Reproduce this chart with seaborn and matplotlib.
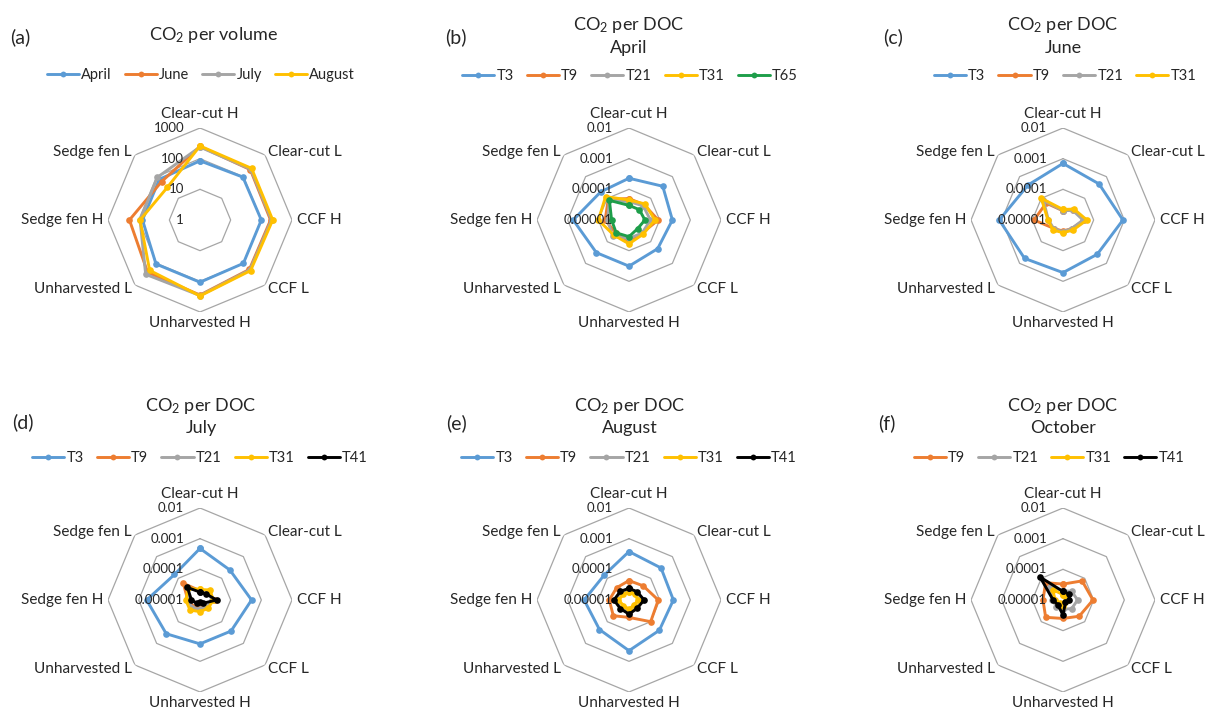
import numpy as np
import pandas as pd
import matplotlib
matplotlib.use("Agg")
import matplotlib.pyplot as plt
from matplotlib.lines import Line2D
import seaborn as sns

# ---------------- data ----------------
categories = ["Clear-cut H", "Clear-cut L", "CCF H", "CCF L",
              "Unharvested H", "Unharvested L", "Sedge fen H", "Sedge fen L"]

# (a) CO2 per volume
a_april = [85, 95, 100, 100, 107, 107, 75, 75]
a_june = [250, 210, 200, 190, 280, 260, 200, 59]
a_july = [240, 220, 215, 200, 290, 320, 90, 93]
a_august = [260, 240, 235, 215, 300, 210, 90, 32]

# (b) CO2 per DOC, April
b_T3 = [2.3e-4, 3.6e-4, 2.6e-4, 2.1e-4, 3.2e-4, 3.2e-4, 6.6e-4, 2.0e-4]
b_T9 = [5e-5, 5e-5, 9e-5, 4e-5, 5e-5, 4e-5, 6e-5, 9e-5]
b_T21 = [4e-5, 4.5e-5, 5e-5, 4e-5, 4e-5, 5.7e-5, 5e-5, 8e-5]
b_T31 = [4.5e-5, 5.5e-5, 7e-5, 4.5e-5, 6e-5, 5e-5, 1e-4, 1.2e-4]
b_T65 = [3e-5, 3e-5, 3.3e-5, 2.5e-5, 3.5e-5, 3.9e-5, 3.7e-5, 8e-5]

# (c) CO2 per DOC, June
c_T3 = [7e-4, 4.6e-4, 9e-4, 3.8e-4, 5.2e-4, 5.9e-4, 1.2e-3, 4.1e-4]
c_T9 = [2e-5, 3e-5, 5e-5, 2.5e-5, 2.3e-5, 2.5e-5, 8.8e-5, 6e-5]
c_T21 = [2e-5, 2.8e-5, 4.5e-5, 2.5e-5, 2.4e-5, 2.6e-5, 3e-5, 8e-5]
c_T31 = [2.2e-5, 3.2e-5, 6e-5, 2.9e-5, 2.6e-5, 2.9e-5, 3.1e-5, 1e-4]

# (d) CO2 per DOC, July
d_T3 = [4.8e-4, 2.4e-4, 4.8e-4, 2.7e-4, 2.7e-4, 3.6e-4, 5.5e-4, 1.5e-4]
d_T9 = [2e-5, 2.2e-5, 3e-5, 2e-5, 1.8e-5, 2e-5, 2.5e-5, 5.9e-5]
d_T21 = [2e-5, 2.5e-5, 2.5e-5, 2e-5, 2e-5, 2.3e-5, 2.5e-5, 3.5e-5]
d_T31 = [2.2e-5, 2.9e-5, 2.7e-5, 2.4e-5, 2.4e-5, 2.9e-5, 2.9e-5, 3.5e-5]
d_T41 = [1.8e-5, 1.9e-5, 3.5e-5, 1.4e-5, 1.2e-5, 1.4e-5, 1.9e-5, 3.8e-5]

# (e) CO2 per DOC, August
e_T3 = [3.8e-4, 3e-4, 2.8e-4, 2.5e-4, 4.5e-4, 2.3e-4, 2.9e-4, 1.4e-4]
e_T9 = [4.3e-5, 4.5e-5, 9e-5, 1e-4, 3.7e-5, 5.3e-5, 4.4e-5, 3.7e-5]
e_T21 = [2.2e-5, 2.2e-5, 2.8e-5, 2.2e-5, 2.6e-5, 2.3e-5, 2.8e-5, 2.3e-5]
e_T31 = [1.8e-5, 1.8e-5, 2e-5, 1.7e-5, 2e-5, 1.8e-5, 2.2e-5, 1.8e-5]
e_T41 = [2.4e-5, 2.4e-5, 3.1e-5, 2.4e-5, 2.9e-5, 2.5e-5, 3.1e-5, 2.5e-5]

# (f) CO2 per DOC, October
f_T9 = [3.3e-5, 7.6e-5, 9.5e-5, 5.6e-5, 4e-5, 6.3e-5, 4.5e-5, 6.3e-5]
f_T21 = [2e-5, 2.5e-5, 3e-5, 2.5e-5, 2e-5, 2e-5, 2.2e-5, 4e-5]
f_T31 = [1.5e-5, 1.4e-5, 1.5e-5, 1.3e-5, 1.6e-5, 1.4e-5, 1.8e-5, 3e-5]
f_T41 = [1.9e-5, 1.9e-5, 1.6e-5, 1.3e-5, 3.1e-5, 1.7e-5, 2.1e-5, 1.15e-4]

vol_ticks = [1, 10, 100, 1000]
vol_tick_labels = ["1", "10", "100", "1000"]
doc_ticks = [1e-5, 1e-4, 1e-3, 1e-2]
doc_tick_labels = ["0.00001", "0.0001", "0.001", "0.01"]

# ---------------- style ----------------
colors = {"April": "#5B9BD5", "June": "#ED7D31", "July": "#A5A5A5", "August": "#FFC000",
          "T3": "#5B9BD5", "T9": "#ED7D31", "T21": "#A5A5A5", "T31": "#FFC000",
          "T41": "#000000", "T65": "#1E9E4A"}

sns.set_theme(style="white")
plt.rcParams["font.family"] = ["Lato", "DejaVu Sans"]
plt.rcParams["mathtext.default"] = "regular"
TXT = "#262626"

W, H = 1209, 718
fig = plt.figure(figsize=(W / 100, H / 100), dpi=100)
PX = 0.72  # points per pixel

panels = [
    dict(letter="(a)", title=["CO$_2$ per volume"], center=(200, 220), title_x=214, title_y=[35],
         letter_xy=(10, 37), leg=(201, 75),
         series={"April": a_april, "June": a_june, "July": a_july, "August": a_august},
         ticks=vol_ticks, tlabels=vol_tick_labels),
    dict(letter="(b)", title=["CO$_2$ per DOC", "April"], center=(629, 220), title_x=629, title_y=[25, 48],
         letter_xy=(445, 37), leg=(630, 76),
         series={"T3": b_T3, "T9": b_T9, "T21": b_T21, "T31": b_T31, "T65": b_T65},
         ticks=doc_ticks, tlabels=doc_tick_labels),
    dict(letter="(c)", title=["CO$_2$ per DOC", "June"], center=(1063, 220), title_x=1063, title_y=[25, 48],
         letter_xy=(883, 37), leg=(1065, 76),
         series={"T3": c_T3, "T9": c_T9, "T21": c_T21, "T31": c_T31},
         ticks=doc_ticks, tlabels=doc_tick_labels),
    dict(letter="(d)", title=["CO$_2$ per DOC", "July"], center=(200, 600), title_x=201, title_y=[406, 428],
         letter_xy=(12, 422), leg=(200, 458),
         series={"T3": d_T3, "T9": d_T9, "T21": d_T21, "T31": d_T31, "T41": d_T41},
         ticks=doc_ticks, tlabels=doc_tick_labels),
    dict(letter="(e)", title=["CO$_2$ per DOC", "August"], center=(629, 600), title_x=630, title_y=[406, 428],
         letter_xy=(446, 423), leg=(629, 458),
         series={"T3": e_T3, "T9": e_T9, "T21": e_T21, "T31": e_T31, "T41": e_T41},
         ticks=doc_ticks, tlabels=doc_tick_labels),
    dict(letter="(f)", title=["CO$_2$ per DOC", "October"], center=(1063, 600), title_x=1063, title_y=[406, 428],
         letter_xy=(878, 423), leg=(1049, 458),
         series={"T9": f_T9, "T21": f_T21, "T31": f_T31, "T41": f_T41},
         ticks=doc_ticks, tlabels=doc_tick_labels),
]

n = len(categories)
angles = np.linspace(0, 2 * np.pi, n, endpoint=False)
angles_closed = np.append(angles, 2 * np.pi)

# label placement (ha, va, dx px, dy px)
lab_pos = [("center", "bottom", 0, 7), ("left", "center", 3, 3), ("left", "center", 5, 0),
           ("left", "center", 3, -4), ("center", "top", 0, -4), ("right", "center", -3, -4),
           ("right", "center", -5, 0), ("right", "center", -3, 3)]

R = 92
for p in panels:
    cx, cy = p["center"]
    ax = fig.add_axes([(cx - R) / W, 1 - (cy + R) / H, 2 * R / W, 2 * R / H], projection="polar")
    ax.set_theta_zero_location("N")
    ax.set_theta_direction(-1)
    ax.set_rscale("log")

    rows = []
    for name, vals in p["series"].items():
        for i, th in enumerate(angles_closed):
            rows.append({"theta": th, "value": vals[i % n], "series": name})
    df = pd.DataFrame(rows)
    names = list(p["series"].keys())

    # octagonal grid
    for lvl in p["ticks"][1:]:
        ax.plot(angles_closed, [lvl] * (n + 1), color="#A6A6A6", lw=0.9, zorder=1)

    sns.lineplot(data=df, x="theta", y="value", hue="series", hue_order=names,
                 palette={k: colors[k] for k in names}, sort=False, estimator=None,
                 marker="o", markersize=4.8, markeredgewidth=0, linewidth=2.1,
                 legend=False, ax=ax, zorder=3)

    ax.set_rlim(p["ticks"][0], p["ticks"][-1])
    ax.set_xticks([])
    ax.set_yticks([])
    ax.yaxis.set_minor_locator(matplotlib.ticker.NullLocator())
    ax.grid(False)
    ax.spines["polar"].set_visible(False)
    ax.set_xlabel("")
    ax.set_ylabel("")
    ax.patch.set_alpha(0)

    for lvl, txt in zip(p["ticks"], p["tlabels"]):
        ax.annotate(txt, xy=(0, lvl), xytext=(-11.5, 0), textcoords="offset points",
                    ha="right", va="center", fontsize=9.5, color=TXT, zorder=6)

    for th, lab, (ha, va, dx, dy) in zip(angles, categories, lab_pos):
        ax.annotate(lab, xy=(th, p["ticks"][-1]), xytext=(dx * PX, dy * PX),
                    textcoords="offset points", ha=ha, va=va, fontsize=11,
                    color=TXT, annotation_clip=False)

    # titles
    for line, ty in zip(p["title"], p["title_y"]):
        fig.text(p["title_x"] / W, 1 - ty / H, line, ha="center", va="center",
                 fontsize=13, color=TXT)
    fig.text(p["letter_xy"][0] / W, 1 - p["letter_xy"][1] / H, p["letter"],
             ha="left", va="center", fontsize=14, color=TXT)

    handles = [Line2D([], [], color=colors[k], lw=2.1, marker="o", ms=4.2, mew=0) for k in names]
    fig.legend(handles, names, loc="center", bbox_to_anchor=(p["leg"][0] / W, 1 - p["leg"][1] / H),
               ncol=len(names), frameon=False, fontsize=10.5, handlelength=2.2,
               handletextpad=0.15, columnspacing=0.9, borderaxespad=0, borderpad=0,
               labelcolor=TXT)

fig.savefig("out.png", dpi=100, facecolor="white")
